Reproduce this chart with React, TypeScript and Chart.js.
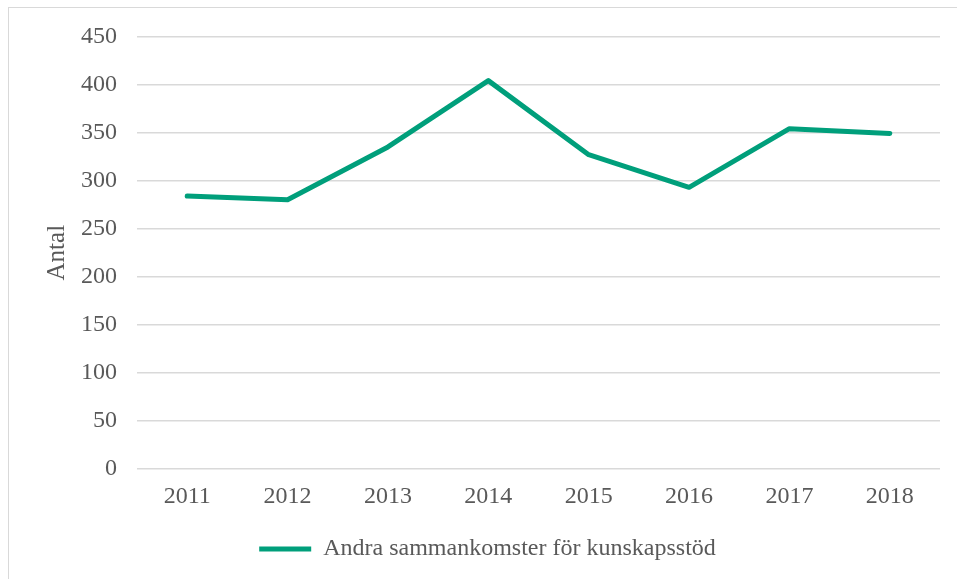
import React, { useEffect, useRef } from "react";
import { Chart, registerables } from "chart.js";

Chart.register(...registerables);

const years = ["2011", "2012", "2013", "2014", "2015", "2016", "2017", "2018"];
const values = [284, 280, 335, 404, 327, 293, 354, 349];
const seriesLabel = "Andra sammankomster för kunskapsstöd";
const yTitle = "Antal";

const FONT = "'Liberation Serif', 'Times New Roman', serif";
const TEXT = "#595959";
const GRID = "#d9d9d9";
const LINE = "#009f7b";

export default function App() {
  const ref = useRef<HTMLCanvasElement | null>(null);
  useEffect(() => {
    if (!ref.current) return;
    const chart = new Chart(ref.current, {
      type: "line",
      data: {
        labels: years,
        datasets: [
          {
            label: seriesLabel,
            data: values,
            borderColor: LINE,
            backgroundColor: LINE,
            borderWidth: 5,
            borderCapStyle: "round",
            borderJoinStyle: "round",
            pointRadius: 0,
            tension: 0,
          },
        ],
      },
      options: {
        animation: false,
        responsive: false,
        maintainAspectRatio: false,
        layout: { padding: { left: 26, right: 17, top: 20, bottom: 8 } },
        plugins: {
          tooltip: { enabled: false },
          legend: {
            position: "bottom",
            labels: {
              usePointStyle: true,
              pointStyle: "line",
              pointStyleWidth: 52,
              boxHeight: 5,
              color: TEXT,
              font: { family: FONT, size: 24 },
              padding: 10,
            },
          },
        },
        scales: {
          x: {
            offset: true,
            grid: { display: false, drawTicks: false },
            border: { display: false },
            ticks: { color: TEXT, font: { family: FONT, size: 24 }, padding: 13 },
            afterFit: (s: any) => {
              s.height = 58;
            },
          },
          y: {
            min: 0,
            max: 450,
            ticks: { stepSize: 50, color: TEXT, font: { family: FONT, size: 24 }, padding: 20 },
            grid: { color: GRID, lineWidth: 1.5, drawTicks: false },
            border: { display: false },
            title: {
              display: true,
              text: yTitle,
              color: TEXT,
              font: { family: FONT, size: 25 },
              padding: { top: 7, bottom: 0 },
            },
            afterFit: (s: any) => {
              s.width = 102;
            },
          },
        },
      },
    });
    return () => chart.destroy();
  }, []);
  return (
    <div
      style={{
        position: "absolute",
        left: 8,
        top: 7,
        width: 949,
        height: 572,
        borderLeft: "1px solid #d9d9d9",
        borderTop: "1px solid #d9d9d9",
      }}
    >
      <canvas
        ref={ref}
        width={948}
        height={577}
        style={{ display: "block", position: "absolute", left: 0, top: -6 }}
      />
    </div>
  );
}
